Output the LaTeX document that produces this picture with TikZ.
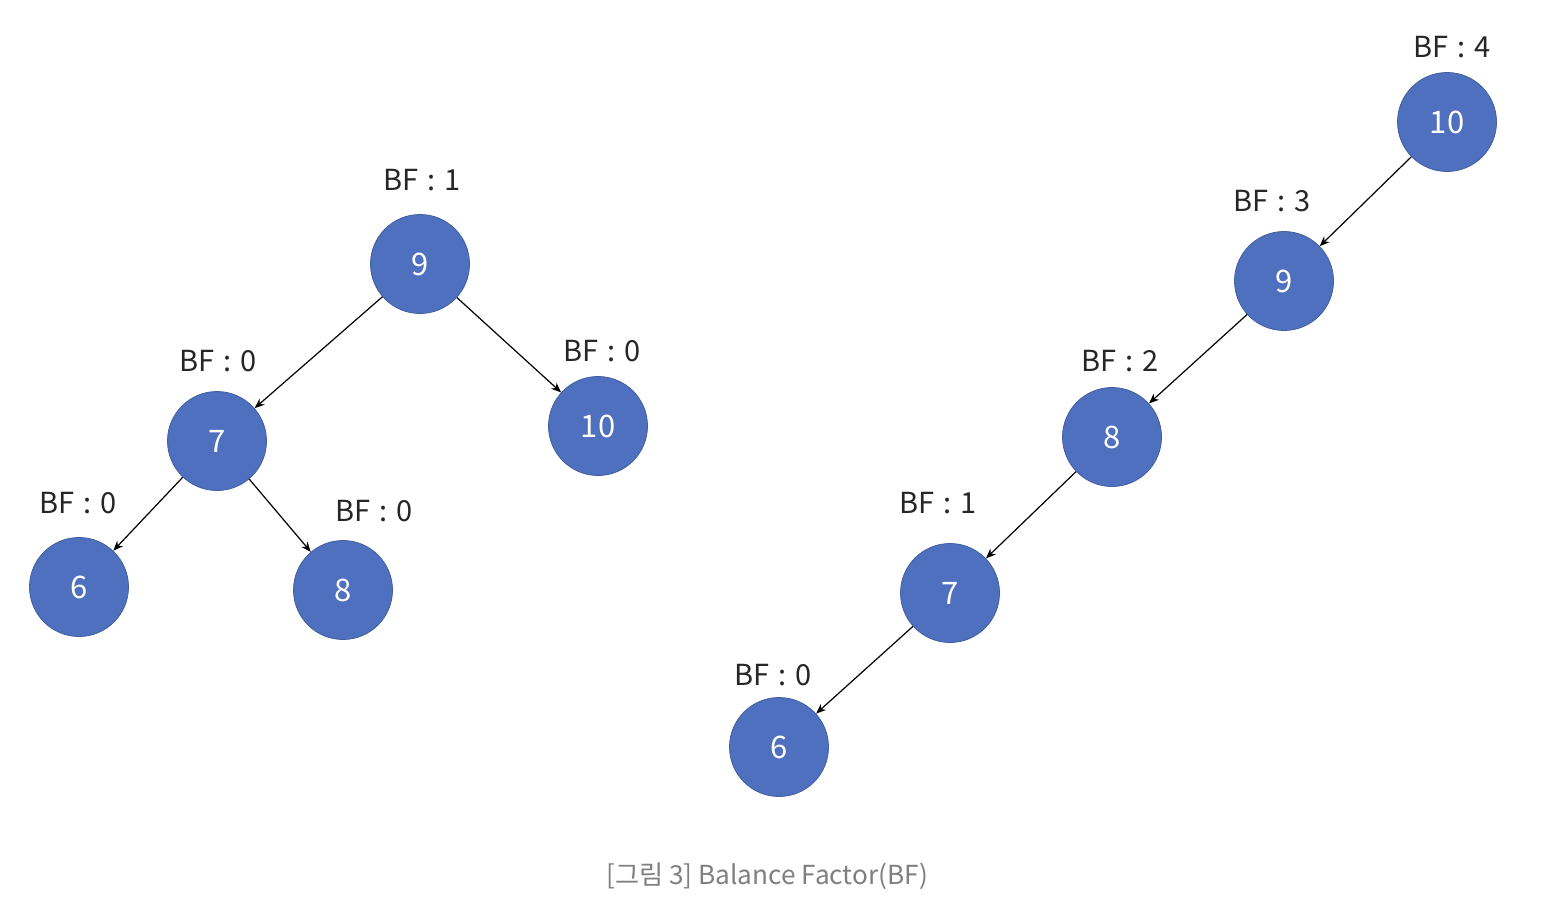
\documentclass[tikz,border=0pt]{standalone}
\usepackage{fontspec}
\setmainfont{Noto Sans CJK KR}
\usetikzlibrary{arrows.meta}
\definecolor{nodeblue}{HTML}{4F70BE}
\definecolor{nodeedge}{HTML}{42609F}
\definecolor{capgray}{HTML}{7F7F7F}
\newcommand{\bflabel}[1]{BF\hspace{0.32em}:\hspace{0.32em}#1}
\begin{document}
\begin{tikzpicture}[x=0.5pt,y=-0.5pt,
    vtx/.style={circle,fill=nodeblue,draw=nodeedge,line width=0.4pt,minimum size=49.5pt,inner sep=0pt,text=white,font=\fontsize{15.5}{17}\selectfont},
    bf/.style={font=\fontsize{14.5}{16}\selectfont,text=black!85},
    edge/.style={-{Stealth[length=5pt,width=4pt]},line width=0.6pt}]
    \useasboundingbox (0,0) rectangle (1552,904);
    % left tree
    \foreach \n/\x/\y/\v in {a9/420/264/9, a7/217/441/7, a10/598/426/10, a6/79/587/6, a8/343/590/8} {
        \node[vtx] (\n) at (\x,\y) {\v};
    }
    \foreach \n/\x/\y/\b in {la9/422/180/1, la7/218/361/0, la10/602/351/0, la6/78/503/0, la8/374/511/0} {
        \node[bf] (\n) at (\x,\y) {\bflabel{\b}};
    }
    \foreach \p/\c in {a9/a7, a9/a10, a7/a6, a7/a8} {
        \draw[edge] (\p) -- (\c);
    }
    % right tree (skewed)
    \foreach \n/\x/\y/\v in {b10/1447/122/10, b9/1284/281/9, b8/1112/437/8, b7/950/593/7, b6/779/747/6} {
        \node[vtx] (\n) at (\x,\y) {\v};
    }
    \foreach \n/\x/\y/\b in {lb10/1452/47/4, lb9/1272/201/3, lb8/1120/361/2, lb7/938/503/1, lb6/773/675/0} {
        \node[bf] (\n) at (\x,\y) {\bflabel{\b}};
    }
    \foreach \p/\c in {b10/b9, b9/b8, b8/b7, b7/b6} {
        \draw[edge] (\p) -- (\c);
    }
    % caption
    \node[font=\fontsize{13.1}{15}\selectfont,text=capgray] (cap) at (767,876) {[그림 3] Balance Factor(BF)};
\end{tikzpicture}
\end{document}
